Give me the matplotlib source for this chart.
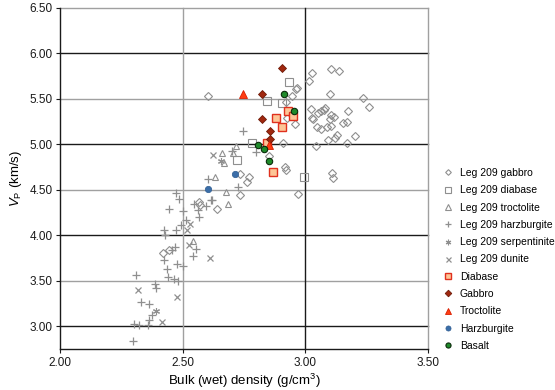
import matplotlib
matplotlib.use("Agg")
import matplotlib.pyplot as plt

plt.rcParams['font.family'] = ['Liberation Sans', 'DejaVu Sans']
plt.rcParams['mathtext.fontset'] = 'custom'
plt.rcParams['mathtext.rm'] = 'Liberation Sans'
plt.rcParams['mathtext.it'] = 'Liberation Sans:italic'

# ---- data ----
leg_gabbro_x = [2.602, 3.026, 3.015, 3.105, 3.139, 2.967, 2.962, 2.944, 2.921, 3.10, 3.236, 3.258,
                3.022, 3.08, 3.076, 3.063, 3.053, 3.105, 3.117, 3.10, 3.175, 3.027, 3.03, 2.924,
                2.958, 3.049, 3.062, 3.087, 3.103, 3.155, 3.168, 3.128, 3.12, 3.092, 3.203, 3.17,
                3.043, 2.907, 2.85, 2.918, 2.922, 3.11, 3.114, 2.77, 2.763, 2.733, 2.733, 2.969,
                2.64, 2.568, 2.57, 2.421, 2.446]
leg_gabbro_y = [5.535, 5.79, 5.70, 5.824, 5.81, 5.616, 5.605, 5.53, 5.47, 5.554, 5.513, 5.41,
                5.385, 5.40, 5.38, 5.367, 5.34, 5.32, 5.305, 5.28, 5.37, 5.29, 5.28, 5.287,
                5.22, 5.19, 5.166, 5.19, 5.20, 5.23, 5.25, 5.10, 5.07, 5.05, 5.09, 5.02,
                4.98, 5.02, 4.875, 4.75, 4.72, 4.68, 4.635, 4.64, 4.59, 4.675, 4.445, 4.456,
                4.29, 4.37, 4.33, 3.81, 3.84]

leg_diabase_x = [2.935, 2.845, 2.904, 2.784, 2.72, 2.995]
leg_diabase_y = [5.689, 5.477, 5.451, 5.012, 4.829, 4.646]

leg_troct_x = [2.662, 2.716, 2.705, 2.669, 2.633, 2.675, 2.686, 2.543]
leg_troct_y = [4.91, 4.98, 4.90, 4.79, 4.64, 4.48, 4.35, 3.94]

leg_harz_x = [2.747, 2.797, 2.70, 2.605, 2.725, 2.62, 2.473, 2.484, 2.615, 2.548, 2.595, 2.443,
              2.5, 2.561, 2.565, 2.514, 2.493, 2.473, 2.425, 2.429, 2.455, 2.469, 2.554, 2.543,
              2.425, 2.435, 2.476, 2.5, 2.31, 2.442, 2.466, 2.48, 2.389, 2.391, 2.33, 2.364,
              2.375, 2.361, 2.36, 2.303, 2.323, 2.299]
leg_harz_y = [5.15, 4.92, 4.93, 4.62, 4.535, 4.39, 4.463, 4.398, 4.39, 4.343, 4.324, 4.291,
              4.273, 4.28, 4.207, 4.17, 4.116, 4.054, 4.054, 4.006, 3.84, 3.867, 3.85, 3.776,
              3.724, 3.629, 3.684, 3.666, 3.567, 3.54, 3.523, 3.50, 3.468, 3.42, 3.264, 3.245,
              3.128, 3.066, 3.018, 3.029, 3.011, 2.835]

leg_serp_x = [2.391, 2.658]
leg_serp_y = [3.165, 4.822]

leg_dunite_x = [2.531, 2.518, 2.527, 2.611, 2.317, 2.477, 2.416, 2.622]
leg_dunite_y = [4.123, 4.061, 3.896, 3.75, 3.40, 3.318, 3.047, 4.884]

diabase_x = [2.929, 2.951, 2.882, 2.905, 2.842, 2.868]
diabase_y = [5.363, 5.312, 5.29, 5.195, 5.02, 4.697]

gabbro_x = [2.904, 2.823, 2.823, 2.856, 2.856]
gabbro_y = [5.835, 5.554, 5.283, 5.151, 5.06]

troct_x = [2.747, 2.85]
troct_y = [5.554, 4.994]

harz_x = [2.715, 2.603]
harz_y = [4.675, 4.511]

basalt_x = [2.915, 2.952, 2.806, 2.830, 2.851]
basalt_y = [5.554, 5.367, 4.99, 4.953, 4.822]

x_ticks = [2.00, 2.50, 3.00, 3.50]
y_ticks = [3.00, 3.50, 4.00, 4.50, 5.00, 5.50, 6.00, 6.50]

# ---- figure ----
fig = plt.figure(figsize=(5.55, 3.9), dpi=100)
ax = fig.add_axes([60/555, 1-349/390, (428-60)/555, (349-8)/390])
ax.set_xlim(2.0, 3.5)
ax.set_ylim(2.75, 6.5)

# grid: integer values dark, half values gray
for v in y_ticks:
    c = '#1a1a1a' if abs(v - round(v)) < 1e-6 else '#a0a0a0'
    ax.axhline(v, color=c, lw=1.0, zorder=0.5, clip_on=False)
for v in x_ticks[1:]:
    c = '#1a1a1a' if abs(v - round(v)) < 1e-6 else '#a0a0a0'
    ax.axvline(v, color=c, lw=1.0, zorder=0.5, clip_on=False)

gray = '#8f8f8f'
ms_open = dict(linestyle='none', markerfacecolor='none', markeredgecolor=gray, markeredgewidth=0.8)
ax.plot(leg_gabbro_x, leg_gabbro_y, marker='D', markersize=3.6, label='Leg 209 gabbro', **ms_open)
ax.plot(leg_diabase_x, leg_diabase_y, marker='s', markersize=5.5, label='Leg 209 diabase', **ms_open)
ax.plot(leg_troct_x, leg_troct_y, marker='^', markersize=5, label='Leg 209 troctolite', **ms_open)
ax.plot(leg_harz_x, leg_harz_y, marker='+', markersize=5.5, linestyle='none', color=gray,
        markeredgewidth=0.9, label='Leg 209 harzburgite')
ax.plot(leg_serp_x, leg_serp_y, marker=(6, 2, 0), markersize=5, linestyle='none', color=gray,
        markeredgewidth=0.8, label='Leg 209 serpentinite')
ax.plot(leg_dunite_x, leg_dunite_y, marker='x', markersize=4.5, linestyle='none', color=gray,
        markeredgewidth=0.9, label='Leg 209 dunite')

ax.plot(diabase_x, diabase_y, marker='s', markersize=5.2, linestyle='none',
        markerfacecolor='#fdc596', markeredgecolor='#e0301e', markeredgewidth=1.0, label='Diabase')
ax.plot(gabbro_x, gabbro_y, marker='D', markersize=4.2, linestyle='none',
        markerfacecolor='#a0280f', markeredgecolor='#6e1a08', markeredgewidth=0.6, label='Gabbro')
ax.plot(troct_x, troct_y, marker='^', markersize=5.5, linestyle='none',
        markerfacecolor='#ff3d12', markeredgecolor='#d81e00', markeredgewidth=0.6, label='Troctolite')
ax.plot(harz_x, harz_y, marker='o', markersize=4.6, linestyle='none',
        markerfacecolor='#3b6ea8', markeredgecolor='#2f5d92', markeredgewidth=0.5, label='Harzburgite')
ax.plot(basalt_x, basalt_y, marker='o', markersize=4.6, linestyle='none',
        markerfacecolor='#1f8a2a', markeredgecolor='#0a2a0a', markeredgewidth=0.8, label='Basalt')

for s in ['top', 'right']:
    ax.spines[s].set_visible(False)
for s in ['left', 'bottom']:
    ax.spines[s].set_color('#1a1a1a')
    ax.spines[s].set_linewidth(1.0)

ax.set_xticks(x_ticks)
ax.set_yticks(y_ticks)
ax.set_xticklabels([f'{v:.2f}' for v in x_ticks])
ax.set_yticklabels([f'{v:.2f}' for v in y_ticks])
ax.tick_params(axis='both', direction='out', length=3, width=0.8, labelsize=8.5,
               colors='#1a1a1a', pad=2.5)

ax.set_xlabel('Bulk (wet) density (g/cm$^3$)', fontsize=9.5, labelpad=2)
ax.set_ylabel('$V_\\mathrm{P}$ (km/s)', fontsize=9.5, labelpad=4)

leg = ax.legend(loc='upper left', bbox_to_anchor=(443/555, 1-168/390), bbox_transform=fig.transFigure,
                frameon=False, fontsize=7.5, handlelength=1.0, handletextpad=0.6,
                labelspacing=0.7, borderaxespad=0, borderpad=0, markerscale=0.8)

fig.savefig('out.png', dpi=100)
